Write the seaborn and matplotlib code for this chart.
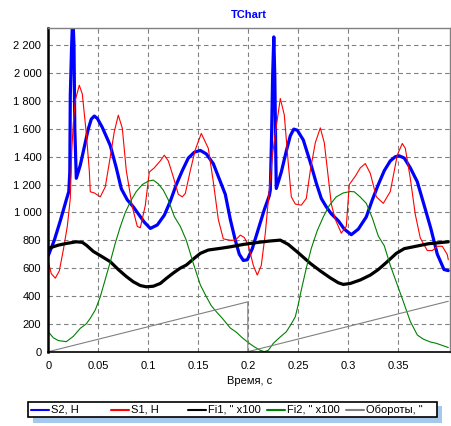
import matplotlib
matplotlib.use("Agg")
import matplotlib.pyplot as plt
import seaborn as sns
import pandas as pd
from matplotlib.ticker import FuncFormatter, FixedLocator
from matplotlib.lines import Line2D
from matplotlib.patches import Rectangle

# ---------------- data ----------------
s2_t = [0.000, 0.006, 0.012, 0.018, 0.0205, 0.0215, 0.022, 0.0233, 0.024, 0.025, 0.0257, 0.0265,
        0.028, 0.032, 0.036, 0.040, 0.043, 0.046, 0.049, 0.054, 0.062, 0.068, 0.073, 0.079, 0.085,
        0.090, 0.096, 0.102, 0.109, 0.116, 0.122, 0.128, 0.134, 0.140, 0.146, 0.152, 0.158, 0.165,
        0.171, 0.177, 0.182, 0.187, 0.191, 0.195, 0.199, 0.204, 0.210, 0.216, 0.221, 0.222, 0.2233,
        0.2243, 0.2255, 0.2265, 0.2275, 0.228, 0.233, 0.238, 0.242, 0.2455, 0.249, 0.255, 0.262,
        0.268, 0.273, 0.278, 0.283, 0.290, 0.296, 0.303, 0.310, 0.318, 0.324, 0.330, 0.336, 0.342,
        0.347, 0.351, 0.356, 0.362, 0.369, 0.3757, 0.3824, 0.389, 0.3957, 0.400]
s2_v = [690, 800, 940, 1090, 1150, 1290, 1840, 2190, 2330, 2330, 2190, 1600,
        1245, 1340, 1470, 1600, 1670, 1692, 1675, 1610, 1480, 1320, 1170, 1090, 1040,
        990, 930, 885, 910, 980, 1080, 1200, 1300, 1390, 1432, 1445, 1420, 1350,
        1240, 1130, 950, 800, 700, 655, 660, 740, 880, 1020, 1120, 1160, 1555,
        1970, 2260, 1970, 1400, 1172, 1290, 1440, 1550, 1598, 1590, 1520, 1360,
        1210, 1100, 1040, 990, 940, 880, 840, 880, 968, 1090, 1200, 1300, 1370,
        1400, 1406, 1390, 1320, 1220, 1055, 888, 700, 590, 582]

s1_t = [0.000, 0.003, 0.007, 0.011, 0.015, 0.019, 0.022, 0.0235, 0.025, 0.027, 0.031, 0.034, 0.038,
        0.041, 0.042, 0.046, 0.052, 0.057, 0.062, 0.066, 0.070, 0.074, 0.078, 0.084, 0.089, 0.092,
        0.097, 0.101, 0.106, 0.112, 0.116, 0.120, 0.125, 0.130, 0.134, 0.137, 0.142, 0.147, 0.153,
        0.160, 0.165, 0.170, 0.175, 0.182, 0.187, 0.192, 0.196, 0.200, 0.205, 0.209, 0.213, 0.217,
        0.221, 0.224, 0.227, 0.232, 0.236, 0.240, 0.243, 0.247, 0.253, 0.258, 0.262, 0.267, 0.272,
        0.276, 0.280, 0.283, 0.287, 0.293, 0.298, 0.301, 0.307, 0.312, 0.317, 0.322, 0.328, 0.335,
        0.342, 0.349, 0.354, 0.357, 0.362, 0.367, 0.372, 0.379, 0.384, 0.389, 0.394, 0.399, 0.400]
s1_v = [645, 560, 528, 580, 730, 900, 1100, 1450, 1640, 1805, 1913, 1850, 1568,
        1300, 1148, 1140, 1112, 1184, 1400, 1580, 1698, 1605, 1300, 1040, 899, 890,
        1050, 1290, 1320, 1370, 1411, 1370, 1255, 1130, 1112, 1136, 1300, 1450, 1567,
        1460, 1220, 950, 810, 800, 800, 837, 820, 765, 620, 550, 620, 850,
        1160, 1400, 1567, 1818, 1700, 1350, 1112, 1060, 1052, 1100, 1300, 1500, 1607,
        1500, 1250, 1060, 950, 851, 900, 1200, 1260, 1320, 1351, 1280, 1112, 1065,
        1150, 1412, 1495, 1460, 1245, 985, 816, 726, 726, 757, 757, 697, 660]

fi1_t = [0.000, 0.010, 0.018, 0.028, 0.034, 0.038, 0.045, 0.052, 0.062, 0.070, 0.078, 0.085, 0.092,
         0.098, 0.105, 0.112, 0.118, 0.125, 0.132, 0.138, 0.145, 0.152, 0.160, 0.172, 0.182, 0.195,
         0.210, 0.222, 0.232, 0.240, 0.250, 0.262, 0.272, 0.282, 0.290, 0.295, 0.302, 0.312, 0.322,
         0.330, 0.338, 0.348, 0.356, 0.365, 0.380, 0.400]
fi1_v = [742, 765, 777, 789, 785, 765, 720, 690, 646, 590, 540, 502, 475,
         466, 470, 490, 526, 565, 600, 622, 665, 706, 730, 742, 753, 770,
         785, 795, 801, 770, 710, 634, 580, 530, 495, 483, 490, 515, 550,
         590, 640, 706, 740, 753, 775, 789]

fi2_t = [0.000, 0.005, 0.010, 0.018, 0.025, 0.032, 0.038, 0.042, 0.047, 0.052, 0.057, 0.062, 0.067,
         0.072, 0.077, 0.083, 0.088, 0.094, 0.100, 0.105, 0.110, 0.115, 0.120, 0.126, 0.132, 0.138,
         0.145, 0.152, 0.158, 0.163, 0.168, 0.174, 0.182, 0.188, 0.194, 0.200, 0.206, 0.212, 0.216,
         0.220, 0.225, 0.231, 0.238, 0.243, 0.247, 0.250, 0.253, 0.258, 0.263, 0.269, 0.275, 0.281,
         0.288, 0.295, 0.302, 0.306, 0.312, 0.318, 0.324, 0.330, 0.336, 0.342, 0.349, 0.355, 0.362,
         0.369, 0.375, 0.382, 0.388, 0.394, 0.400]
fi2_v = [143, 100, 80, 72, 110, 168, 200, 240, 300, 395, 520, 646, 780,
         897, 1000, 1090, 1150, 1200, 1225, 1232, 1205, 1160, 1090, 970, 900, 800,
         634, 480, 395, 330, 287, 240, 170, 140, 100, 65, 35, 10, 0,
         10, 60, 100, 143, 200, 251, 340, 443, 600, 742, 870, 968, 1050,
         1112, 1140, 1150, 1148, 1110, 1065, 960, 830, 760, 620, 480, 360, 217,
         120, 90, 70, 60, 45, 30]

ob_t = [0.000, 0.1995, 0.1995, 0.400]
ob_v = [0, 358, 0, 362]

labels = ['S2, Н', 'S1, Н', 'Fi1, " x100', 'Fi2, " x100', 'Обороты, "']
colors = ['#0000ff', '#ff0000', '#000000', '#008000', '#808080']
widths = [2.3, 0.8, 2.3, 0.8, 0.8]

xticks = [0, 0.05, 0.1, 0.15, 0.2, 0.25, 0.3, 0.35]
xtick_labels = ['0', '0.05', '0.1', '0.15', '0.2', '0.25', '0.3', '0.35']
yticks = [0, 200, 400, 600, 800, 1000, 1200, 1400, 1600, 1800, 2000, 2200]

# ---------------- style ----------------
sns.set_theme(style="white")
plt.rcParams['font.family'] = ['Liberation Sans', 'DejaVu Sans']

W, H = 452, 426
fig = plt.figure(figsize=(W / 100, H / 100), dpi=100)
ax = fig.add_axes([48.3 / W, 1 - 351.7 / H, (450 - 48.3) / W, (351.7 - 28) / H])

series = [(s2_t, s2_v), (s1_t, s1_v), (fi1_t, fi1_v), (fi2_t, fi2_v), (ob_t, ob_v)]
for (t, v), lab, c, lw in zip(series, labels, colors, widths):
    df = pd.DataFrame({'t': t, 'v': v})
    sns.lineplot(data=df, x='t', y='v', ax=ax, color=c, linewidth=lw,
                 sort=False, estimator=None, label=lab, legend=False)

ax.set_xlim(0, 0.4017)
ax.set_ylim(0, 2324)
ax.xaxis.set_major_locator(FixedLocator(xticks))
ax.set_xticklabels(xtick_labels)
ax.yaxis.set_major_locator(FixedLocator(yticks))
ax.yaxis.set_major_formatter(FuncFormatter(lambda v, p: f"{int(v):,}".replace(",", " ")))
ax.tick_params(axis='both', which='major', labelsize=8, length=3, width=0.8,
               color='#000000', pad=2, labelcolor='#000000', direction='out')
ax.tick_params(axis='x', pad=4)

ax.grid(True, linestyle=(0, (4, 3)), color='#808080', linewidth=0.8)
for side in ['top', 'right']:
    ax.spines[side].set_color('#808080')
    ax.spines[side].set_linewidth(1.0)
ax.spines['left'].set_color('#000000')
ax.spines['left'].set_linewidth(1.8)
ax.spines['bottom'].set_color('#000000')
ax.spines['bottom'].set_linewidth(1.2)

ax.set_xlabel('Время, с', fontsize=8, color='#000000', labelpad=3)
ax.set_ylabel('')
ax.set_title('TChart', fontsize=8, fontweight='bold', color='#0000ff', pad=7)

# ---------------- legend (TeeChart style, fixed slots) ----------------
def fx(px):
    return px / W

def fy(py):
    return 1 - py / H

fig.add_artist(Rectangle((fx(33), fy(422.5)), fx(441.5) - fx(33), fy(406) - fy(422.5),
                         transform=fig.transFigure, facecolor='#a6c8ec', edgecolor='none', zorder=1))
fig.add_artist(Rectangle((fx(28), fy(417)), fx(437) - fx(28), fy(402) - fy(417),
                         transform=fig.transFigure, facecolor='white', edgecolor='#000000',
                         linewidth=1.2, zorder=2))
slots = [31, 111, 188, 267, 346]
ly = 409.5
for x0, lab, c in zip(slots, labels, colors):
    fig.add_artist(Line2D([fx(x0), fx(x0 + 18)], [fy(ly), fy(ly)], transform=fig.transFigure,
                          color=c, linewidth=1.5, zorder=3))
    fig.text(fx(x0 + 20), fy(ly), lab, fontsize=8, color='#000000', va='center', ha='left', zorder=3)

fig.savefig('out.png', dpi=100)
